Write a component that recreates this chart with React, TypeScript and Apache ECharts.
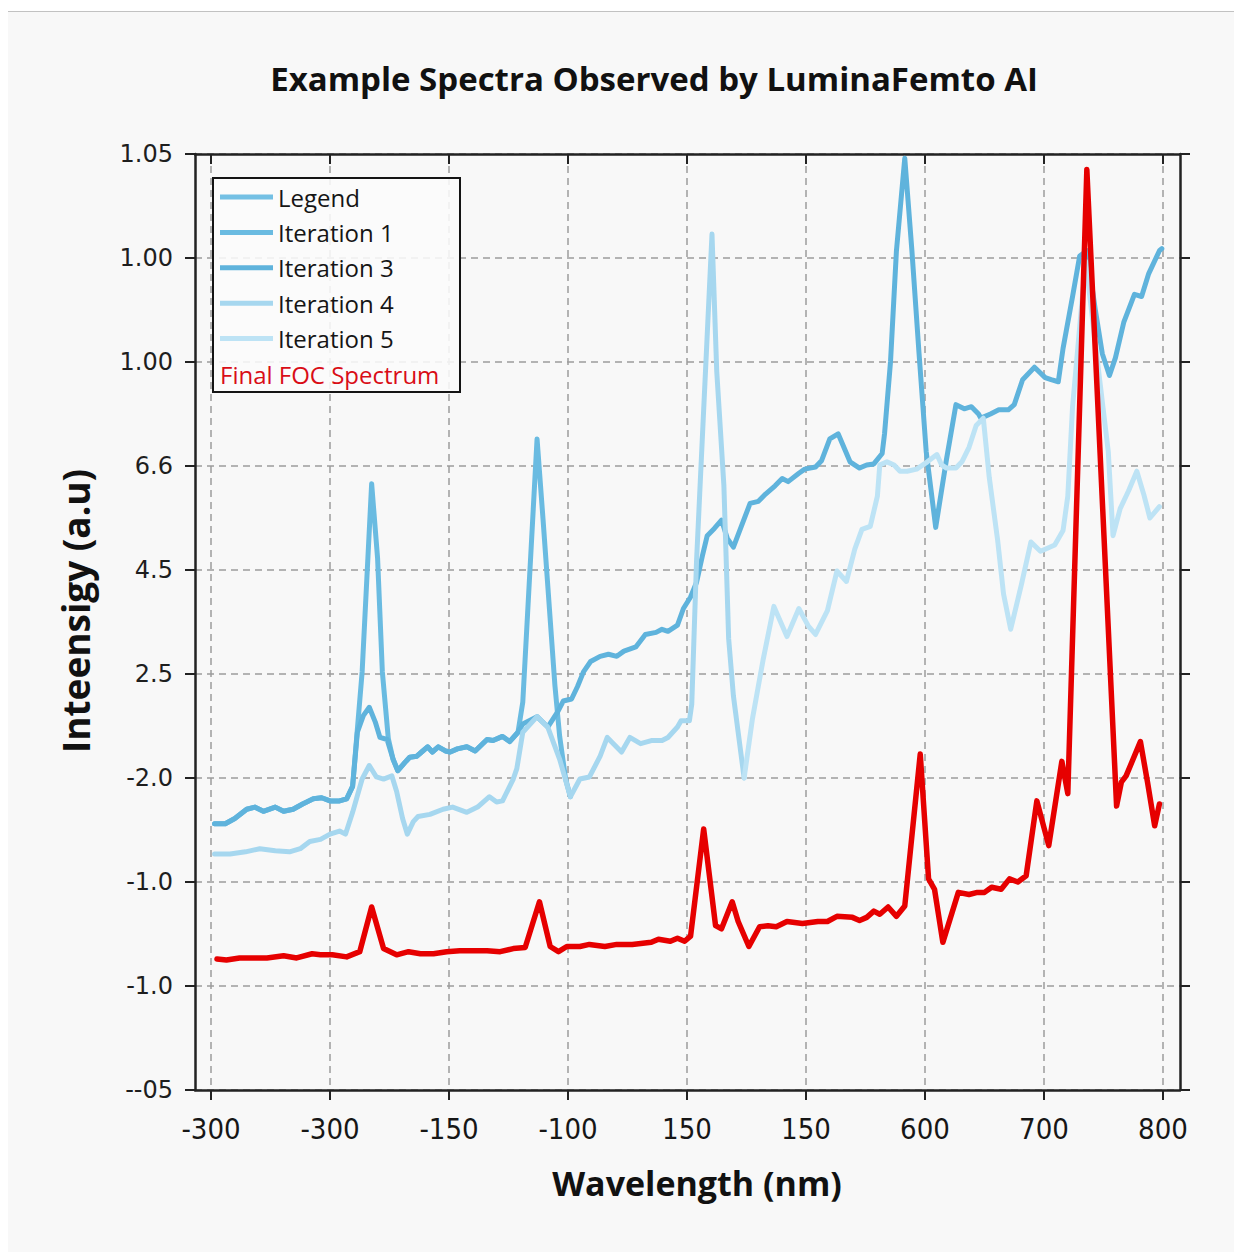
import React, { useEffect, useRef } from "react";
import * as echarts from "echarts";

// ---- tick labels (as printed on the reference) ----
const xTickLabels = ["-300", "-300", "-150", "-100", "150", "150", "600", "700", "800"];
const yTickLabels = ["--05", "-1.0", "-1.0", "-2.0", "2.5", "4.5", "6.6", "1.00", "1.00", "1.05"];

// ---- series names / colours ----
const seriesNames = ["Legend", "Iteration 1", "Iteration 3", "Iteration 4", "Iteration 5", "Final FOC Spectrum"];
const seriesColors = ["#74c0e4", "#6abbe1", "#5fb3dc", "#a6d7ef", "#bde3f5", "#e60000"];

// ---- data: [x position in tick units, y position in tick units] ----
const legendData: number[][] = [];

const iteration1 = [
  [0.03, 2.56], [0.12, 2.56], [0.2, 2.61], [0.3, 2.7], [0.37, 2.72], [0.44, 2.68], [0.54, 2.72],
  [0.61, 2.68], [0.69, 2.7], [0.77, 2.75], [0.86, 2.8], [0.93, 2.81], [1.0, 2.78], [1.08, 2.78],
  [1.14, 2.8], [1.19, 2.92], [1.27, 4.02], [1.35, 5.83], [1.4, 5.11], [1.44, 4.02], [1.49, 3.38],
  [1.53, 3.18], [1.57, 3.07], [1.63, 3.15], [1.67, 3.2], [1.73, 3.21], [1.77, 3.25], [1.82, 3.3],
  [1.86, 3.25], [1.91, 3.3], [1.97, 3.26], [2.01, 3.25], [2.07, 3.28], [2.15, 3.3], [2.22, 3.26],
  [2.32, 3.37], [2.37, 3.36], [2.45, 3.4], [2.51, 3.35], [2.58, 3.44], [2.62, 3.73], [2.74, 6.26],
  [2.79, 5.49], [2.85, 4.53], [2.89, 3.89], [2.93, 3.4], [2.98, 2.99], [3.02, 2.82],
];

const iteration3 = [
  [0.03, 2.56], [0.12, 2.56], [0.2, 2.61], [0.3, 2.7], [0.37, 2.72], [0.44, 2.68], [0.54, 2.72],
  [0.61, 2.68], [0.69, 2.7], [0.77, 2.75], [0.86, 2.8], [0.93, 2.81], [1.0, 2.78], [1.08, 2.78],
  [1.14, 2.8], [1.19, 2.92], [1.23, 3.44], [1.28, 3.6], [1.33, 3.68], [1.38, 3.54], [1.42, 3.39],
  [1.48, 3.37], [1.53, 3.18], [1.57, 3.07], [1.63, 3.15], [1.67, 3.2], [1.73, 3.21], [1.77, 3.25],
  [1.82, 3.3], [1.86, 3.25], [1.91, 3.3], [1.97, 3.26], [2.01, 3.25], [2.07, 3.28], [2.15, 3.3],
  [2.22, 3.26], [2.32, 3.37], [2.37, 3.36], [2.45, 3.4], [2.51, 3.35], [2.58, 3.44], [2.62, 3.52],
  [2.74, 3.59], [2.83, 3.49], [2.91, 3.63], [2.96, 3.74], [3.03, 3.76], [3.08, 3.88], [3.13, 4.02],
  [3.19, 4.12], [3.27, 4.17], [3.34, 4.19], [3.41, 4.17], [3.47, 4.22], [3.57, 4.26], [3.65, 4.38],
  [3.74, 4.4], [3.79, 4.43], [3.84, 4.41], [3.92, 4.47], [3.97, 4.63], [4.03, 4.74], [4.08, 4.88],
  [4.13, 5.14], [4.17, 5.33], [4.23, 5.4], [4.29, 5.48], [4.34, 5.3], [4.39, 5.22], [4.45, 5.4],
  [4.53, 5.64], [4.6, 5.66], [4.66, 5.73], [4.74, 5.81], [4.8, 5.88], [4.85, 5.85], [4.94, 5.93],
  [4.99, 5.97], [5.08, 5.99], [5.13, 6.05], [5.2, 6.26], [5.27, 6.31], [5.37, 6.04], [5.45, 5.98],
  [5.51, 6.01], [5.57, 6.02], [5.64, 6.12], [5.66, 6.31], [5.71, 7.0], [5.76, 8.07], [5.83, 8.96],
  [5.89, 8.07], [5.95, 7.08], [6.01, 6.14], [6.09, 5.41], [6.18, 6.06], [6.26, 6.59], [6.33, 6.55],
  [6.39, 6.57], [6.45, 6.5], [6.47, 6.46], [6.55, 6.5], [6.62, 6.54], [6.7, 6.54], [6.75, 6.59],
  [6.82, 6.83], [6.92, 6.95], [7.01, 6.85], [7.06, 6.83], [7.12, 6.81], [7.16, 7.13], [7.24, 7.63],
  [7.3, 8.02], [7.36, 8.07], [7.43, 7.51], [7.49, 7.08], [7.55, 6.87], [7.6, 7.04], [7.67, 7.38],
  [7.76, 7.65], [7.82, 7.63], [7.88, 7.85], [7.97, 8.07], [7.99, 8.09],
];

const iteration4 = [
  [0.03, 2.27], [0.16, 2.27], [0.29, 2.29], [0.41, 2.32], [0.54, 2.3], [0.66, 2.29], [0.75, 2.32],
  [0.83, 2.39], [0.92, 2.41], [1.0, 2.46], [1.08, 2.49], [1.13, 2.46], [1.19, 2.67], [1.27, 2.99],
  [1.33, 3.12], [1.39, 3.01], [1.45, 2.99], [1.52, 3.02], [1.56, 2.87], [1.61, 2.61], [1.65, 2.46],
  [1.7, 2.58], [1.74, 2.63], [1.84, 2.65], [1.95, 2.7], [2.03, 2.72], [2.15, 2.67], [2.24, 2.72],
  [2.34, 2.82], [2.4, 2.77], [2.45, 2.78], [2.54, 2.99], [2.57, 3.09], [2.62, 3.44], [2.74, 3.59],
  [2.83, 3.49], [2.93, 3.18], [3.02, 2.82], [3.1, 2.99], [3.18, 3.01], [3.27, 3.21], [3.33, 3.39],
  [3.45, 3.25], [3.52, 3.39], [3.61, 3.33], [3.7, 3.36], [3.79, 3.36], [3.84, 3.39], [3.92, 3.49],
  [3.95, 3.55], [4.02, 3.55], [4.04, 3.71], [4.08, 5.08], [4.14, 6.54], [4.21, 8.23], [4.25, 6.91],
  [4.31, 5.81], [4.35, 4.34], [4.39, 3.79], [4.48, 3.0],
];

const iteration5 = [
  [4.48, 3.0], [4.55, 3.57], [4.64, 4.14], [4.73, 4.65], [4.84, 4.36], [4.94, 4.63], [5.02, 4.46],
  [5.08, 4.38], [5.18, 4.61], [5.26, 4.99], [5.34, 4.89], [5.41, 5.2], [5.47, 5.39], [5.54, 5.42],
  [5.6, 5.71], [5.62, 6.01], [5.68, 6.04], [5.74, 6.01], [5.79, 5.95], [5.85, 5.95], [5.93, 5.97],
  [6.02, 6.04], [6.1, 6.11], [6.14, 6.01], [6.18, 5.98], [6.26, 5.98], [6.31, 6.04], [6.37, 6.18],
  [6.43, 6.39], [6.49, 6.46], [6.54, 5.89], [6.61, 5.29], [6.66, 4.77], [6.72, 4.43], [6.81, 4.86],
  [6.89, 5.27], [6.97, 5.18], [7.01, 5.2], [7.09, 5.24], [7.16, 5.38], [7.2, 5.71], [7.24, 6.57],
  [7.3, 7.34], [7.35, 7.97], [7.45, 7.0], [7.54, 6.14], [7.58, 5.33], [7.64, 5.59], [7.71, 5.76],
  [7.78, 5.95], [7.84, 5.72], [7.89, 5.5], [7.97, 5.61],
];

const finalFOC = [
  [0.05, 1.26], [0.13, 1.25], [0.24, 1.27], [0.35, 1.27], [0.47, 1.27], [0.61, 1.29], [0.72, 1.27],
  [0.85, 1.31], [0.92, 1.3], [1.02, 1.3], [1.14, 1.28], [1.25, 1.33], [1.35, 1.76], [1.45, 1.36],
  [1.56, 1.3], [1.66, 1.33], [1.76, 1.31], [1.87, 1.31], [1.98, 1.33], [2.09, 1.34], [2.2, 1.34],
  [2.32, 1.34], [2.43, 1.33], [2.54, 1.36], [2.64, 1.37], [2.76, 1.81], [2.85, 1.38], [2.92, 1.33],
  [2.99, 1.38], [3.1, 1.38], [3.18, 1.4], [3.31, 1.38], [3.41, 1.4], [3.54, 1.4], [3.7, 1.42],
  [3.76, 1.45], [3.86, 1.43], [3.92, 1.46], [3.98, 1.43], [4.03, 1.48], [4.14, 2.51], [4.24, 1.58],
  [4.29, 1.55], [4.38, 1.81], [4.43, 1.62], [4.52, 1.38], [4.61, 1.57], [4.68, 1.58], [4.75, 1.57],
  [4.84, 1.62], [4.97, 1.6], [5.1, 1.62], [5.18, 1.62], [5.26, 1.67], [5.39, 1.66], [5.45, 1.63],
  [5.51, 1.66], [5.57, 1.72], [5.62, 1.69], [5.69, 1.76], [5.76, 1.67], [5.83, 1.77], [5.96, 3.23],
  [6.03, 2.03], [6.08, 1.93], [6.15, 1.42], [6.28, 1.9], [6.37, 1.88], [6.44, 1.9], [6.5, 1.9],
  [6.56, 1.95], [6.64, 1.93], [6.71, 2.03], [6.78, 2.0], [6.85, 2.06], [6.94, 2.78], [7.04, 2.35],
  [7.15, 3.16], [7.2, 2.85], [7.36, 8.85], [7.61, 2.73], [7.65, 2.96], [7.69, 3.02], [7.81, 3.35],
  [7.87, 2.96], [7.93, 2.54], [7.97, 2.75],
];

const seriesData = [legendData, iteration1, iteration3, iteration4, iteration5, finalFOC];

const titleText = "Example Spectra Observed by LuminaFemto AI";
const xAxisTitle = "Wavelength (nm)";
const yAxisTitle = "Inteensigy (a.u)";

const tickPositions = xTickLabels.map((_, i) => i);

export default function App() {
  const ref = useRef<HTMLDivElement>(null);

  useEffect(() => {
    if (!ref.current) return;
    const chart = echarts.init(ref.current, undefined, { renderer: "svg" });

    const axisColor = "#222222";
    const gridLine = { show: true, lineStyle: { type: [7, 5] as any, color: "#9c9c9c", width: 1.5 } };
    const xMin = -16 / 119;
    const xMax = 8 + 17 / 119;

    // legend built as graphic elements
    const legendTop = 185;
    const legendStep = 35.4;
    const legendItems: any[] = [];
    seriesNames.forEach((name, i) => {
      const y = legendTop + i * legendStep;
      const isFinal = i === seriesNames.length - 1;
      if (!isFinal) {
        legendItems.push({
          type: "line",
          shape: { x1: 212, y1: y, x2: 265, y2: y },
          style: { stroke: seriesColors[i], lineWidth: 5 },
          z: 101,
        });
      }
      legendItems.push({
        type: "text",
        x: isFinal ? 212 : 270,
        y: y,
        style: {
          text: name,
          fill: isFinal ? "#d90d16" : "#151515",
          font: '24px "Open Sans"',
          textAlign: "left",
          textVerticalAlign: "middle",
        },
        z: 101,
      });
    });

    chart.setOption({
      animation: false,
      backgroundColor: "#f8f8f8",
      grid: { left: 187, right: 62, top: 142, bottom: 162, containLabel: false },
      xAxis: [
        {
          type: "value",
          position: "bottom",
          min: xMin,
          max: xMax,
          minInterval: 1,
          maxInterval: 1,
          axisLine: { show: true, onZero: false, lineStyle: { color: axisColor, width: 2.5 } },
          axisTick: {
            show: true,
            inside: false,
            length: 10,
            customValues: tickPositions,
            lineStyle: { color: axisColor, width: 2 },
          },
          axisLabel: {
            show: true,
            customValues: tickPositions,
            formatter: (v: number) => {
              const i = Math.round(v);
              return Math.abs(v - i) < 1e-6 && xTickLabels[i] !== undefined ? xTickLabels[i] : "";
            },
            margin: 24,
            fontSize: 29,
            fontFamily: "DejaVu Sans Condensed",
            color: "#161616",
          },
          splitLine: gridLine,
        },
        {
          type: "value",
          position: "top",
          min: xMin,
          max: xMax,
          minInterval: 1,
          maxInterval: 1,
          axisLine: { show: true, onZero: false, lineStyle: { color: axisColor, width: 2.5 } },
          axisTick: {
            show: true,
            inside: true,
            length: 10,
            customValues: tickPositions,
            lineStyle: { color: axisColor, width: 2 },
          },
          axisLabel: { show: false },
          splitLine: { show: false },
        },
      ],
      yAxis: [
        {
          type: "value",
          position: "left",
          min: 0,
          max: 9,
          interval: 1,
          axisLine: { show: true, onZero: false, lineStyle: { color: axisColor, width: 2.5 } },
          axisTick: { show: true, inside: false, length: 10, lineStyle: { color: axisColor, width: 2 } },
          axisLabel: {
            formatter: (v: number) => yTickLabels[Math.round(v)] ?? "",
            margin: 22,
            fontSize: 24,
            fontFamily: "DejaVu Sans",
            color: "#1e1e1e",
          },
          splitLine: gridLine,
        },
        {
          type: "value",
          position: "right",
          min: 0,
          max: 9,
          interval: 1,
          axisLine: { show: true, onZero: false, lineStyle: { color: axisColor, width: 2.5 } },
          axisTick: { show: true, inside: false, length: 10, lineStyle: { color: axisColor, width: 2 } },
          axisLabel: { show: false },
          splitLine: { show: false },
        },
      ],
      series: seriesNames.map((name, i) => ({
        name,
        type: "line",
        xAxisIndex: 0,
        yAxisIndex: 0,
        data: seriesData[i],
        showSymbol: false,
        symbol: "none",
        smooth: false,
        z: 2 + i,
        lineStyle: { color: seriesColors[i], width: i === 5 ? 5.5 : 5, join: "round", cap: "round" },
        itemStyle: { color: seriesColors[i] },
      })),
      graphic: [
        {
          type: "text",
          x: 646,
          y: 66,
          style: {
            text: titleText,
            fill: "#111",
            font: 'bold 33px "Open Sans"',
            textAlign: "center",
            textVerticalAlign: "middle",
          },
        },
        {
          type: "text",
          x: 689,
          y: 1171,
          style: {
            text: xAxisTitle,
            fill: "#111",
            font: 'bold 34px "Open Sans"',
            textAlign: "center",
            textVerticalAlign: "middle",
          },
        },
        {
          type: "text",
          x: 67,
          y: 599,
          rotation: Math.PI / 2,
          style: {
            text: yAxisTitle,
            fill: "#111",
            font: 'bold 37px "Open Sans"',
            textAlign: "center",
            textVerticalAlign: "middle",
          },
        },
        {
          type: "rect",
          shape: { x: 205, y: 166, width: 247, height: 214 },
          style: { fill: "rgba(250,250,250,0.88)", stroke: "#141414", lineWidth: 2 },
          z: 100,
        },
        ...legendItems,
      ],
    });

    return () => chart.dispose();
  }, []);

  return (
    <div style={{ width: 1234, height: 1244, background: "#ffffff" }}>
      <div style={{ height: 1, marginTop: 3, background: "#c2c2c2" }} />
      <div ref={ref} style={{ width: 1234, height: 1240, background: "#f8f8f8" }} />
    </div>
  );
}
